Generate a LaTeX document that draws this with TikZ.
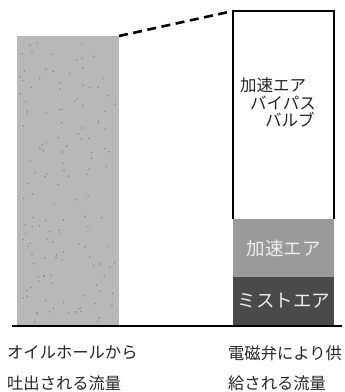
\documentclass[tikz,border=0pt]{standalone}
\usepackage{fontspec}
\newfontfamily\jp{Noto Sans CJK JP}
\definecolor{lightbar}{HTML}{B8B8B8}
\definecolor{dotc}{HTML}{8A8A8A}
\definecolor{midbar}{HTML}{9A9A9A}
\definecolor{darkbar}{HTML}{4A4A4A}
\definecolor{bartext}{HTML}{EDEDED}
\begin{document}
\begin{tikzpicture}[x=1pt,y=-1pt,
  lbl/.style={font=\jp\fontsize{16.3}{16.3}\selectfont, anchor=west, inner sep=0pt, text=black!85},
  bartxt/.style={font=\jp\fontsize{18.5}{18.5}\selectfont, inner sep=0pt, text=bartext},
  toptxt/.style={font=\jp\fontsize{16.5}{16.5}\selectfont, anchor=west, inner sep=0pt, text=black!85}]
\useasboundingbox (0,0) rectangle (345,392);
% left bar
\fill[lightbar] (17,36) rectangle (119,326);
\pgfmathsetseed{7}
\foreach \i in {1,...,140}{
  \pgfmathsetmacro{\px}{20+96*rnd}
  \pgfmathsetmacro{\py}{40+282*rnd}
  \fill[dotc] (\px,\py) circle (0.9);
}
\coordinate (ltop) at (119,36);
% right bar
\fill[darkbar] (233,277) rectangle (334,326);
\fill[midbar] (233,219) rectangle (334,277);
\draw[line width=1.3pt] (233,219) -- (233,11) -- (334,11) -- (334,219);
\coordinate (rtop) at (233,11);
\draw[line width=2.6pt, dash pattern=on 9pt off 5.5pt] (ltop) -- (rtop);
% baseline
\coordinate (b1) at (12,326);
\coordinate (b2) at (342,326);
\draw[line width=1.6pt] (b1) -- (b2);
% texts
\node[toptxt] (t1) at (240,85) {加速エア};
\node[toptxt] (t2) at (250,103) {バイパス};
\node[toptxt] (t3) at (265,120) {バルブ};
\node[bartxt] (m1) at (284,248) {加速エア};
\node[bartxt] (m2) at (284,301) {ミストエア};
\node[lbl] (l1) at (7,353) {オイルホールから};
\node[lbl] (l2) at (7,383) {吐出される流量};
\node[lbl] (r1) at (228,353) {電磁弁により供};
\node[lbl] (r2) at (228,383) {給される流量};
\end{tikzpicture}
\end{document}
